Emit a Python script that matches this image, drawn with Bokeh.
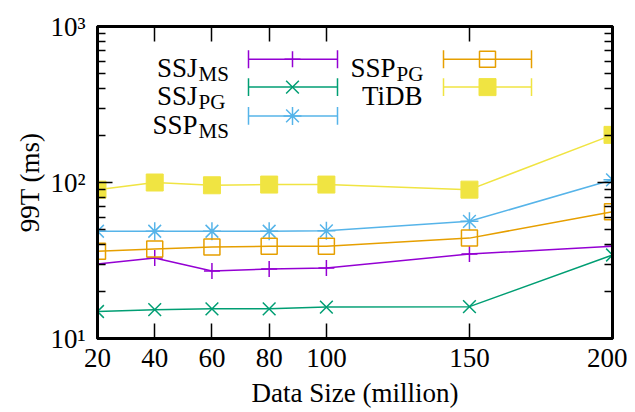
from bokeh.plotting import figure
from bokeh.models import FixedTicker, LinearAxis, LogAxis, Range1d, CustomJSTickFormatter, LinearScale
from bokeh.core.properties import value
from bokeh.embed import file_html
from bokeh.resources import INLINE

# ---------------- data ----------------
sizes = [20, 40, 60, 80, 100, 150, 200]
ssj_ms = [30.0, 32.8, 27.1, 27.9, 28.3, 34.8, 39.0]
ssj_pg = [14.9, 15.3, 15.5, 15.5, 15.9, 16.0, 34.3]
ssp_ms = [48.7, 48.7, 48.7, 48.7, 49.0, 56.4, 104.0]
ssp_pg = [36.3, 37.5, 38.6, 39.0, 39.0, 44.0, 65.0]
tidb = [90.0, 100.0, 96.0, 97.0, 97.0, 90.0, 202.0]
x_ticks = [20, 40, 60, 80, 100, 150, 200]
y_ticks = [10, 100, 1000]
y_labels = {10: "10¹", 100: "10²", 1000: "10³"}
x_title = "Data Size (million)"
y_title = "99T (ms)"

SERIF = "Liberation Serif"
FONT = value(SERIF)
C_PURPLE = "#9400d3"
C_GREEN = "#009e73"
C_CYAN = "#56b4e9"
C_ORANGE = "#e69f00"
C_YELLOW = "#f0e442"

FW, FH = 515, 314
p = figure(width=627, height=410,
           y_axis_type="log", x_range=(20, 200), y_range=(10, 1000),
           output_backend="svg", toolbar_location=None,
           min_border_left=97, min_border_right=15, min_border_top=26, min_border_bottom=70)
p.extra_x_ranges = {"px": Range1d(0, FW)}
p.extra_y_ranges = {"py": Range1d(FH, 0)}
p.extra_x_scales = {"px": LinearScale()}
p.extra_y_scales = {"py": LinearScale()}
p.grid.visible = False
p.outline_line_color = "black"
p.outline_line_width = 3
p.background_fill_color = "white"
p.border_fill_color = "white"

minor = [m * d for d in (10, 100) for m in range(2, 10)]

xa = p.below[0]
xa.ticker = FixedTicker(ticks=x_ticks)
xa.axis_label = x_title
ya = p.left[0]
ya.ticker = FixedTicker(ticks=y_ticks, minor_ticks=minor)
ya.major_label_overrides = y_labels
ya.axis_label = y_title

top = LinearAxis(ticker=FixedTicker(ticks=x_ticks),
                 formatter=CustomJSTickFormatter(code="return ''"))
right = LogAxis(ticker=FixedTicker(ticks=y_ticks, minor_ticks=minor),
                formatter=CustomJSTickFormatter(code="return ''"))
p.add_layout(top, "above")
p.add_layout(right, "right")

for ax in (xa, ya, top, right):
    ax.axis_line_width = 3
    ax.axis_line_color = "black"
    ax.major_tick_in = 15
    ax.major_tick_out = 0
    ax.minor_tick_in = 8
    ax.minor_tick_out = 0
    ax.major_tick_line_width = 1.5
    ax.minor_tick_line_width = 1.5
    ax.major_label_text_font = SERIF
    ax.major_label_text_font_size = "27px"
    ax.major_label_text_color = "black"
    ax.axis_label_text_font = SERIF
    ax.axis_label_text_font_size = "27px"
    ax.axis_label_text_font_style = "normal"
    ax.axis_label_text_color = "black"
for ax in (top, right):
    ax.major_label_text_font_size = "0px"
    ax.major_label_standoff = 0
xa.major_label_standoff = 10
xa.axis_label_standoff = 8
ya.major_label_standoff = 12
ya.axis_label_standoff = 2

series = [
    ("SSJ", "MS", ssj_ms, C_PURPLE, "cross", 16),
    ("SSJ", "PG", ssj_pg, C_GREEN, "x", 18),
    ("SSP", "MS", ssp_ms, C_CYAN, "asterisk", 18),
    ("SSP", "PG", ssp_pg, C_ORANGE, "square_open", 16),
    ("TiDB", "", tidb, C_YELLOW, "square_filled", 17),
]

for main, sub, ys, col, mk, sz in series:
    p.line(sizes, ys, line_color=col, line_width=1.5)
    if mk == "square_open":
        p.scatter(sizes, ys, marker="square", size=sz, fill_color=None,
                  line_color=col, line_width=1.5)
    elif mk == "square_filled":
        p.scatter(sizes, ys, marker="square", size=sz, fill_color=col,
                  line_color=col, line_width=1)
    else:
        p.scatter(sizes, ys, marker=mk, size=sz, line_color=col, line_width=1.5)

# ---------------- legend (frame pixel coordinates) ----------------
cols = [(100, 151, 195, 240), (298, 346, 390, 434)]
rows = [33, 61, 90]
slots = [(0, 0), (0, 1), (0, 2), (1, 0), (1, 1)]
for (main, sub, ys, col, mk, sz), (ci, ri) in zip(series, slots):
    tx, sl, sm, sr = cols[ci]
    ly = rows[ri]
    if sub:
        p.text(x=[tx], y=[ly + 9], text=[main], text_font=FONT, text_font_size=value("27px"),
               text_align="right", text_baseline="alphabetic", text_color="black",
               x_range_name="px", y_range_name="py")
        p.text(x=[tx + 1], y=[ly + 15], text=[sub], text_font=FONT, text_font_size=value("21px"),
               text_align="left", text_baseline="alphabetic", text_color="black",
               x_range_name="px", y_range_name="py")
    else:
        p.text(x=[tx + 27], y=[ly + 9], text=[main], text_font=FONT, text_font_size=value("27px"),
               text_align="right", text_baseline="alphabetic", text_color="black",
               x_range_name="px", y_range_name="py")
    p.segment(x0=[sl], y0=[ly], x1=[sr], y1=[ly], line_color=col, line_width=1.5,
              x_range_name="px", y_range_name="py")
    p.segment(x0=[sl, sr], y0=[ly - 9, ly - 9], x1=[sl, sr], y1=[ly + 9, ly + 9],
              line_color=col, line_width=1.5, x_range_name="px", y_range_name="py")
    if mk == "square_open":
        p.scatter([sm], [ly], marker="square", size=sz, fill_color=None, line_color=col,
                  line_width=1.5, x_range_name="px", y_range_name="py")
    elif mk == "square_filled":
        p.scatter([sm], [ly], marker="square", size=sz, fill_color=col, line_color=col,
                  x_range_name="px", y_range_name="py")
    else:
        p.scatter([sm], [ly], marker=mk, size=sz, line_color=col, line_width=1.5,
                  x_range_name="px", y_range_name="py")

open("out.html", "w").write(file_html(p, INLINE))
